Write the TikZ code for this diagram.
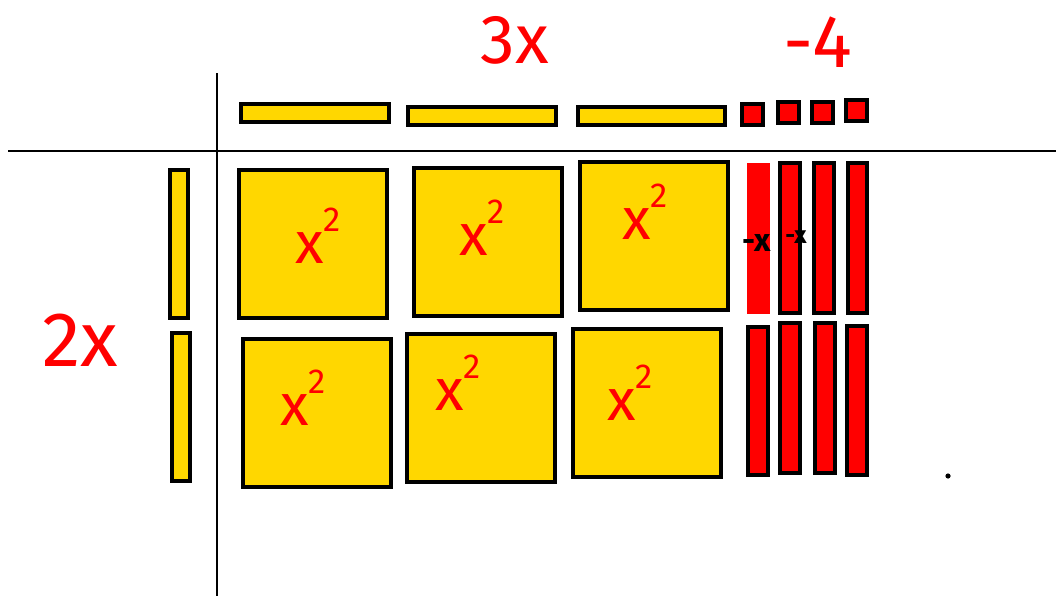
\documentclass[tikz,border=0pt]{standalone}
\usepackage{fontspec}
\setmainfont{Fira Sans}
\definecolor{tileY}{HTML}{FFD700}
\definecolor{tileR}{HTML}{FF0000}
\newcommand\xsq{x\raisebox{0.55em}{\fontsize{26}{26}\selectfont 2}}
\begin{document}
\begin{tikzpicture}[x=0.75pt,y=-0.75pt,
  ytile/.style={fill=tileY,draw=black,line width=2.6pt},
  rtile/.style={fill=tileR,draw=black,line width=2.6pt},
  axisline/.style={draw=black,line width=1.9pt},
  lab/.style={text=tileR,inner sep=0pt},
  sqlab/.style={lab,font=\fontsize{44}{44}\selectfont},
  biglab/.style={lab,font=\fontsize{52}{52}\selectfont},
  neglab/.style={text=black,inner sep=0pt,font=\bfseries\fontsize{24}{24}\selectfont}]
\useasboundingbox (0,0) rectangle (1056,596);
\fill[white] (0,0) rectangle (1056,596);
% axes
\coordinate (vtop) at (217,73);
\coordinate (vbot) at (217,596);
\coordinate (hl) at (8,151);
\coordinate (hr) at (1056,151);
\draw[axisline] (vtop) -- (vbot);
\draw[axisline] (hl) -- (hr);
% top x-bars
\draw[ytile] (241,104) rectangle (389,122);
\draw[ytile] (408,107) rectangle (556,125);
\draw[ytile] (578,107) rectangle (725,125);
% top unit squares
\draw[rtile] (742,104) rectangle (763,125);
\draw[rtile] (778,102) rectangle (799,123);
\draw[rtile] (812,102) rectangle (833,123);
\draw[rtile] (846,100) rectangle (867,121);
% left x-bars
\draw[ytile] (170,170) rectangle (188,318);
\draw[ytile] (172,333) rectangle (190,481);
% x^2 squares
\draw[ytile] (239,170) rectangle (387,318);
\draw[ytile] (414,168) rectangle (562,316);
\draw[ytile] (580,162) rectangle (728,310);
\draw[ytile] (243,339) rectangle (391,487);
\draw[ytile] (407,334) rectangle (555,482);
\draw[ytile] (573,329) rectangle (721,477);
% -x bars
\fill[tileR] (747,163) rectangle (770,314);
\draw[rtile] (780,163) rectangle (800,313);
\draw[rtile] (814,163) rectangle (834,313);
\draw[rtile] (848,163) rectangle (867,313);
\draw[rtile] (748,327) rectangle (768,475);
\draw[rtile] (780,323) rectangle (800,473);
\draw[rtile] (815,323) rectangle (835,473);
\draw[rtile] (847,326) rectangle (867,475);
% labels
\node[biglab] (l3x) at (515,40) {3x};
\node[biglab,font=\fontsize{56}{56}\selectfont] (lm4) at (818,42) {-4};
\node[biglab,font=\fontsize{58}{58}\selectfont] (l2x) at (80,340) {2x};
\node[sqlab] (s1) at (318,236) {\xsq};
\node[sqlab] (s2) at (482,228) {\xsq};
\node[sqlab] (s3) at (645,212) {\xsq};
\node[sqlab] (s4) at (303,398) {\xsq};
\node[sqlab] (s5) at (458,383) {\xsq};
\node[sqlab] (s6) at (630,393) {\xsq};
\node[neglab] (nx1) at (757,243) {-x};
\node[neglab,font=\bfseries\fontsize{18}{18}\selectfont] (nx2) at (796,237) {-x};
\fill (948,476) circle (2.6);
\end{tikzpicture}
\end{document}
